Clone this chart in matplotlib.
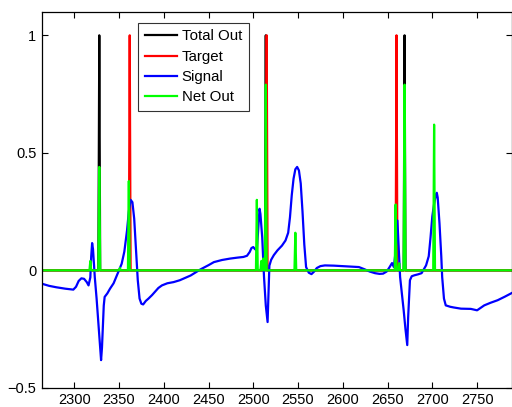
import matplotlib.pyplot as plt
import numpy as np

# sample grid
x_start, x_end = 2264, 2789

# signal trace as (x, value) pairs
signal = [
    (2264, -0.057), (2272, -0.066), (2280, -0.072), (2290, -0.078), (2299, -0.082),
    (2302, -0.07), (2305, -0.045), (2308, -0.034), (2311, -0.036), (2314, -0.05),
    (2316, -0.064), (2318, -0.03), (2319, 0.06), (2320, 0.116), (2321, 0.09),
    (2322, 0.03), (2323, -0.03), (2325, -0.12), (2327, -0.225), (2329, -0.33),
    (2330, -0.382), (2331, -0.33), (2333, -0.15), (2334, -0.113), (2337, -0.098),
    (2340, -0.078), (2344, -0.055), (2347, -0.028), (2350, 0.0), (2353, 0.028),
    (2356, 0.08), (2359, 0.17), (2361, 0.25), (2363, 0.30), (2365, 0.29),
    (2367, 0.22), (2369, 0.09), (2371, -0.042), (2373, -0.12), (2375, -0.142),
    (2377, -0.145), (2380, -0.13), (2383, -0.12), (2387, -0.105), (2390, -0.092),
    (2394, -0.075), (2398, -0.064), (2404, -0.055), (2411, -0.05), (2418, -0.042),
    (2430, -0.022), (2441, 0.004), (2450, 0.022), (2456, 0.035), (2465, 0.044),
    (2474, 0.05), (2482, 0.054), (2489, 0.057), (2493, 0.062), (2496, 0.078),
    (2498, 0.095), (2500, 0.099), (2502, 0.09), (2504, 0.085), (2506, 0.2),
    (2507, 0.262), (2508, 0.24), (2510, 0.14), (2512, -0.028), (2514, -0.15),
    (2516, -0.22), (2517, -0.1), (2518, 0.02), (2520, 0.045), (2523, 0.065),
    (2527, 0.085), (2532, 0.105), (2536, 0.127), (2539, 0.16), (2541, 0.226),
    (2543, 0.32), (2545, 0.39), (2547, 0.43), (2549, 0.44), (2551, 0.425),
    (2553, 0.37), (2555, 0.25), (2557, 0.11), (2559, 0.014), (2562, -0.01),
    (2565, -0.016), (2568, -0.005), (2571, 0.01), (2575, 0.018), (2580, 0.021),
    (2590, 0.02), (2600, 0.018), (2610, 0.016), (2618, 0.014), (2624, 0.005),
    (2630, -0.005), (2636, -0.012), (2641, -0.015), (2645, -0.014), (2649, -0.005),
    (2652, 0.012), (2654, 0.025), (2655, 0.031), (2657, 0.014), (2659, 0.08),
    (2661, 0.212), (2662, 0.13), (2664, -0.028), (2666, -0.1), (2668, -0.17),
    (2670, -0.25), (2672, -0.318), (2673, -0.2), (2675, -0.042), (2677, -0.025),
    (2680, -0.021), (2684, -0.017), (2688, -0.012), (2693, 0.021), (2696, 0.06),
    (2698, 0.14), (2700, 0.23), (2702, 0.283), (2704, 0.32), (2705, 0.33),
    (2706, 0.31), (2708, 0.2), (2710, 0.06), (2711, -0.028), (2713, -0.12),
    (2715, -0.149), (2720, -0.155), (2724, -0.158), (2732, -0.163), (2743, -0.164),
    (2750, -0.17), (2753, -0.162), (2758, -0.149), (2765, -0.138), (2773, -0.127),
    (2781, -0.112), (2789, -0.096),
]

# spike positions and heights
total_pos = [2328, 2514, 2669]
total_val = [1, 1, 1]
target_pos = [2362, 2515, 2660]
target_val = [1, 1, 1]
net_pos = [2318, 2328, 2351, 2361, 2504, 2509, 2511, 2514, 2547, 2659, 2663, 2669, 2702]
net_val = [0.04, 0.44, 0.01, 0.38, 0.30, 0.04, 0.05, 0.79, 0.16, 0.28, 0.03, 0.79, 0.62]


def spikes(pos, val):
    t = np.arange(x_start, x_end + 1)
    out = np.zeros(len(t))
    for p, v in zip(pos, val):
        out[p - x_start] = v
    return t, out


plt.rcParams['font.family'] = ['Liberation Sans', 'DejaVu Sans']

fig = plt.figure(figsize=(5.12, 4.07), dpi=100)
ax = fig.add_axes([0.082, 0.047, 0.918, 0.924])

t, total = spikes(total_pos, total_val)
ax.plot(t, total, color='k', lw=1.6, label='Total Out')
t, target = spikes(target_pos, target_val)
ax.plot(t, target, color='#ff0000', lw=1.6, label='Target')
sx, sy = zip(*signal)
ax.plot(sx, sy, color='#0000ff', lw=1.6, label='Signal')
t, net = spikes(net_pos, net_val)
ax.plot(t, net, color='#00ff00', lw=1.6, label='Net Out')

ax.set_xlim(x_start, x_end)
ax.set_ylim(-0.5, 1.1)
ax.set_xticks([2300, 2350, 2400, 2450, 2500, 2550, 2600, 2650, 2700, 2750])
ax.set_yticks([-0.5, 0, 0.5, 1])
ax.set_yticklabels(['\u22120.5', '0', '0.5', '1'])
ax.tick_params(direction='in', length=4, width=0.8, labelsize=10.5,
               top=True, right=True, pad=4)
for s in ax.spines.values():
    s.set_linewidth(0.9)

leg = ax.legend(loc='upper left', bbox_to_anchor=(0.205, 0.971), borderaxespad=0,
                fancybox=False, fontsize=10.8, handlelength=2.1, handletextpad=0.35,
                labelspacing=0.42, borderpad=0.45)
leg.get_frame().set_edgecolor('k')
leg.get_frame().set_linewidth(0.8)

fig.savefig('out.png', dpi=100)
